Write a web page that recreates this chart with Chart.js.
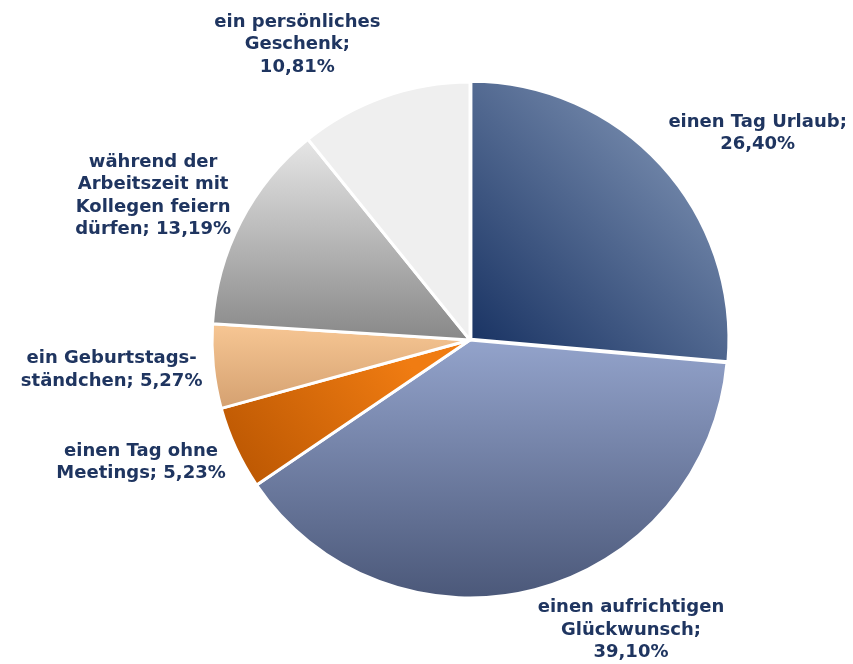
<!DOCTYPE html>
<html>
<head>
<meta charset="utf-8">
<script src="https://cdn.jsdelivr.net/npm/chart.js@4"></script>
<style>
  html, body { margin: 0; padding: 0; background: #ffffff; }
  #wrap { width: 853px; height: 664px; position: relative; }
</style>
</head>
<body>
<div id="wrap"><canvas id="torte"></canvas></div>
<script>
// Daten
var kategorien = ['einen Tag Urlaub', 'einen aufrichtigen Glückwunsch', 'einen Tag ohne Meetings',
                  'ein Geburtstagsständchen', 'während der Arbeitszeit mit Kollegen feiern dürfen', 'ein persönliches Geschenk'];
var werte = [26.40, 39.10, 5.23, 5.27, 13.19, 10.81];
// Zeilenumbrueche der Beschriftungen, {v} = Prozentwert
var beschriftung = [
    ['einen Tag Urlaub;', '{v}'],
    ['einen aufrichtigen', 'Glückwunsch;', '{v}'],
    ['einen Tag ohne', 'Meetings; {v}'],
    ['ein Geburtstags-', 'ständchen; {v}'],
    ['während der', 'Arbeitszeit mit', 'Kollegen feiern', 'dürfen; {v}'],
    ['ein persönliches', 'Geschenk;', '{v}']
];
var farben = [
    ['#1a3464', '#7287aa'],   // Urlaub (diagonal)
    ['#93a3cb', '#4a5778'],   // Glückwunsch (vertikal)
    ['#f07c12', '#b45200'],   // ohne Meetings
    ['#fbcb98', '#d09c6c'],   // Geburtstagsständchen
    ['#e4e4e4', '#888888'],   // Kollegen feiern
    ['#efefef', '#efefef']    // Geschenk
];

function prozent(v) {
    return v.toFixed(2).replace('.', ',') + '%';
}

function fuellung(ctx) {
    var chart = ctx.chart;
    var a = chart.chartArea;
    var i = ctx.dataIndex;
    if (!a) return farben[i][0];
    var cx = (a.left + a.right) / 2, cy = (a.top + a.bottom) / 2;
    var r = Math.min(a.right - a.left, a.bottom - a.top) / 2;
    var c = chart.ctx, g;
    if (i === 0) {
        g = c.createLinearGradient(cx, cy, cx + r * 0.75, cy - r * 0.75);
    } else if (i === 1) {
        g = c.createLinearGradient(0, cy, 0, cy + r);
    } else if (i === 2) {
        g = c.createLinearGradient(cx - r * 0.3, cy, cx - r, cy + r * 0.55);
    } else if (i === 3) {
        g = c.createLinearGradient(0, cy - r * 0.1, 0, cy + r * 0.3);
    } else if (i === 4) {
        g = c.createLinearGradient(0, cy - r * 0.75, 0, cy);
    } else {
        return farben[i][0];
    }
    g.addColorStop(0, farben[i][0]);
    g.addColorStop(1, farben[i][1]);
    return g;
}

// Beschriftungen ausserhalb der Torte
var aussenLabels = {
    id: 'aussenLabels',
    afterDatasetsDraw: function (chart) {
        var c = chart.ctx;
        var meta = chart.getDatasetMeta(0);
        c.save();
        c.font = 'bold 18px "DejaVu Sans", Verdana, sans-serif';
        c.fillStyle = '#1f3560';
        c.textBaseline = 'middle';
        c.textAlign = 'center';
        var zeilenH = 22.5;
        meta.data.forEach(function (el, i) {
            var p = el.getProps(['x', 'y', 'startAngle', 'endAngle', 'outerRadius'], true);
            var mitte = (p.startAngle + p.endAngle) / 2;
            var dx = Math.cos(mitte), dy = Math.sin(mitte);
            var R = p.outerRadius + 11;
            var ax = p.x + R * dx, ay = p.y + R * dy;
            var zeilen = beschriftung[i].map(function (z) { return z.replace('{v}', prozent(werte[i])); });
            var breite = 0;
            zeilen.forEach(function (z) { breite = Math.max(breite, c.measureText(z).width); });
            var hoehe = zeilen.length * zeilenH;
            var links = dx >= 0 ? ax : ax - breite;
            var oben = ay - hoehe * (1 - dy) / 2;
            if (dy < -0.6) oben -= 10;   // obere Beschriftungen etwas hoeher
            if (dy > 0.9) oben -= 3;
            zeilen.forEach(function (z, k) {
                c.fillText(z, links + breite / 2, oben + zeilenH * (k + 0.5));
            });
        });
        c.restore();
    }
};

var gx = document.getElementById('torte').getContext('2d');
var torte = new Chart(gx, {
    type: 'pie',
    data: {
        labels: kategorien,
        datasets: [{
            data: werte,
            backgroundColor: fuellung,
            borderColor: '#ffffff',
            borderWidth: 3,
            offset: [5, 0, 0, 0, 0, 0]
        }]
    },
    options: {
        responsive: true,
        maintainAspectRatio: false,
        animation: false,
        layout: { padding: { top: 78, bottom: 62, left: 208, right: 121 } },
        plugins: {
            legend: { display: false },
            tooltip: { enabled: false }
        }
    },
    plugins: [aussenLabels]
});
</script>
</body>
</html>
